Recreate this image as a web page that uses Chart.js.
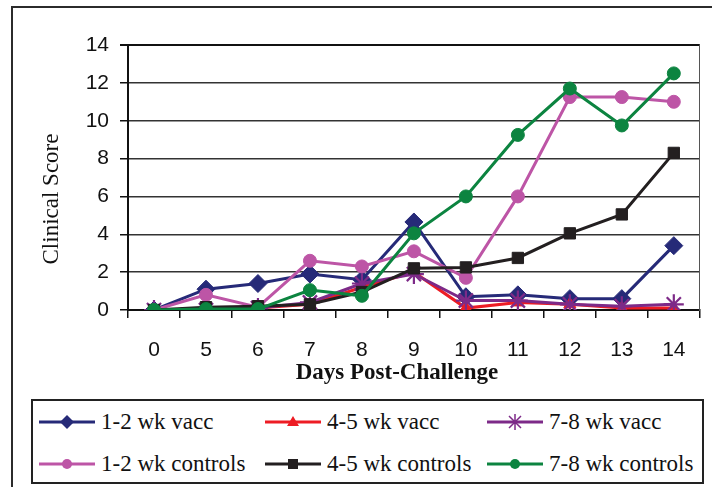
<!DOCTYPE html>
<html>
<head>
<meta charset="utf-8">
<script src="https://cdn.jsdelivr.net/npm/chart.js@4.4.1/dist/chart.umd.min.js"></script>
<style>
  html, body { margin: 0; padding: 0; background: #fff; overflow: hidden; }
  body { width: 712px; height: 487px; position: relative; }
  #frame { position: absolute; left: 11px; top: 6px; width: 740px; height: 600px;
           border-left: 2px solid #2b2b2b; border-top: 2px solid #2b2b2b; box-sizing: border-box; }
  #chart { position: absolute; left: 0; top: 0; }
  #legend { position: absolute; left: 31px; top: 399px; width: 673px; height: 85px;
            border: 2px solid #222; box-sizing: border-box; }
  .item { position: absolute; display: flex; align-items: center; height: 30px;
          font-family: "Liberation Serif", serif; font-size: 23px; color: #111; white-space: nowrap; }
  .item svg { margin-right: 6px; }
</style>
</head>
<body>
<div id="frame"></div>
<canvas id="chart" width="712" height="395"></canvas>
<div id="legend"></div>
<script>
// Days post-challenge (category axis)
const days = ["0", "5", "6", "7", "8", "9", "10", "11", "12", "13", "14"];

// Clinical scores
const vacc12 = [0, 1.1, 1.4, 1.9, 1.6, 4.65, 0.7, 0.8, 0.6, 0.6, 3.4];
const vacc45 = [0, 0, 0.1, 0.3, 1.2, 2.0, 0.1, 0.4, 0.3, 0.1, 0.1];
const vacc78 = [0, 0, 0.1, 0.4, 1.4, 1.9, 0.5, 0.5, 0.3, 0.2, 0.3];
const ctrl12 = [0, 0.8, 0.15, 2.6, 2.3, 3.1, 1.7, 6.0, 11.25, 11.25, 11.0];
const ctrl45 = [0, 0.15, 0.2, 0.3, 0.95, 2.2, 2.25, 2.75, 4.05, 5.05, 8.3];
const ctrl78 = [0, 0.05, 0.05, 1.05, 0.75, 4.05, 6.0, 9.25, 11.7, 9.75, 12.5];

const yTicks = [0, 2, 4, 6, 8, 10, 12, 14];

// Excel-ish series styling: [label, data, colour, marker, radius]
const SERIES = [
  ["1-2 wk vacc", vacc12, "#262a78", "rectRot", 9],
  ["4-5 wk vacc", vacc45, "#ed1c24", "triangle", 7],
  ["7-8 wk vacc", vacc78, "#7d2a88", "star", 10],
  ["1-2 wk controls", ctrl12, "#bd55a6", "circle", 6.5],
  ["4-5 wk controls", ctrl45, "#231f20", "rect", 8],
  ["7-8 wk controls", ctrl78, "#0c8440", "circle", 6.5],
];

const SERIF = "'Liberation Serif', 'Times New Roman', serif";
const SANS = "'Liberation Sans', Arial, sans-serif";

// Axis titles are off-centre in the original (Excel placed them by hand),
// so draw them ourselves instead of using the scale titles.
const axisTitles = {
  id: "axisTitles",
  afterDraw(chart) {
    const ctx = chart.ctx;
    ctx.save();
    ctx.fillStyle = "#111";
    ctx.textAlign = "center";
    ctx.textBaseline = "middle";
    ctx.font = "bold 23px " + SERIF;
    ctx.fillText("Days Post-Challenge", 397, 373);
    ctx.translate(52, 199);
    ctx.rotate(-Math.PI / 2);
    ctx.font = "23px " + SERIF;
    ctx.fillText("Clinical Score", 0, 0);
    ctx.restore();
  },
};

new Chart(document.getElementById("chart"), {
  type: "line",
  data: {
    labels: days,
    datasets: SERIES.map(([label, data, color, style, r], i) => ({
      label,
      data,
      borderColor: color,
      backgroundColor: color,
      borderWidth: 3,
      pointStyle: style,
      pointRadius: r,
      pointBorderWidth: style === "star" ? 2.2 : 1,
      pointBorderColor: color,
      pointBackgroundColor: color,
      tension: 0,
      order: SERIES.length - i, // later series on top, like Excel
    })),
  },
  options: {
    responsive: false,
    animation: false,
    layout: { padding: { left: 0, top: 45, right: 5, bottom: 0 } },
    plugins: { legend: { display: false }, tooltip: { enabled: false } },
    scales: {
      x: {
        offset: true,
        grid: {
          offset: true,
          drawOnChartArea: false,
          tickLength: 8,
          tickColor: "#111",
          lineWidth: 1.5,
        },
        border: { color: "#111", width: 2 },
        ticks: { color: "#111", font: { family: SANS, size: 21 }, padding: 20 },
        afterFit: (s) => { s.height = 85; },
      },
      y: {
        min: 0,
        max: 14,
        afterBuildTicks: (s) => { s.ticks = yTicks.map((v) => ({ value: v })); },
        grid: {
          color: (c) => (c.tick && c.tick.value === 14 ? "#111" : "#333"),
          lineWidth: (c) => (c.tick && c.tick.value === 14 ? 2 : 1.5),
          tickLength: 8,
          tickColor: "#111",
        },
        border: { color: "#111", width: 2 },
        ticks: { color: "#111", font: { family: SANS, size: 21 }, padding: 11 },
        afterFit: (s) => { s.width = 128; },
      },
      y2: {
        position: "right",
        display: true,
        grid: { drawOnChartArea: false, drawTicks: false },
        ticks: { display: false },
        border: { color: "#555", width: 1 },
        afterFit: (s) => { s.width = 0; },
      },
    },
  },
  plugins: [axisTitles],
});

// Legend: 3 columns x 2 rows, Excel style (line with marker)
const LEGEND_COLS = [37, 263, 485];
const LEGEND_ROWS = [420, 462];

function markerSvg(style, color) {
  const cx = 28, cy = 8;
  let m = "";
  if (style === "rectRot") m = `<polygon points="${cx},${cy - 7} ${cx + 7},${cy} ${cx},${cy + 7} ${cx - 7},${cy}" fill="${color}"/>`;
  if (style === "triangle") m = `<polygon points="${cx},${cy - 6} ${cx + 6},${cy + 4} ${cx - 6},${cy + 4}" fill="${color}"/>`;
  if (style === "star") m = `<path d="M${cx} ${cy - 8}V${cy + 8}M${cx - 6} ${cy - 6}L${cx + 6} ${cy + 6}M${cx + 6} ${cy - 6}L${cx - 6} ${cy + 6}" stroke="${color}" stroke-width="1.5"/>`;
  if (style === "circle") m = `<circle cx="${cx}" cy="${cy}" r="5" fill="${color}"/>`;
  if (style === "rect") m = `<rect x="${cx - 5}" y="${cy - 5}" width="10" height="10" fill="${color}"/>`;
  return `<svg width="56" height="16" viewBox="0 0 56 16"><line x1="0" y1="${cy}" x2="56" y2="${cy}" stroke="${color}" stroke-width="3"/>${m}</svg>`;
}

const legend = document.getElementById("legend");
SERIES.forEach(([label, , color, style], i) => {
  const el = document.createElement("div");
  el.className = "item";
  el.style.left = (LEGEND_COLS[i % 3] - 31) + "px";
  el.style.top = (LEGEND_ROWS[Math.floor(i / 3)] - 399 - 15) + "px";
  el.innerHTML = markerSvg(style, color) + "<span>" + label + "</span>";
  legend.appendChild(el);
});
</script>
</body>
</html>
